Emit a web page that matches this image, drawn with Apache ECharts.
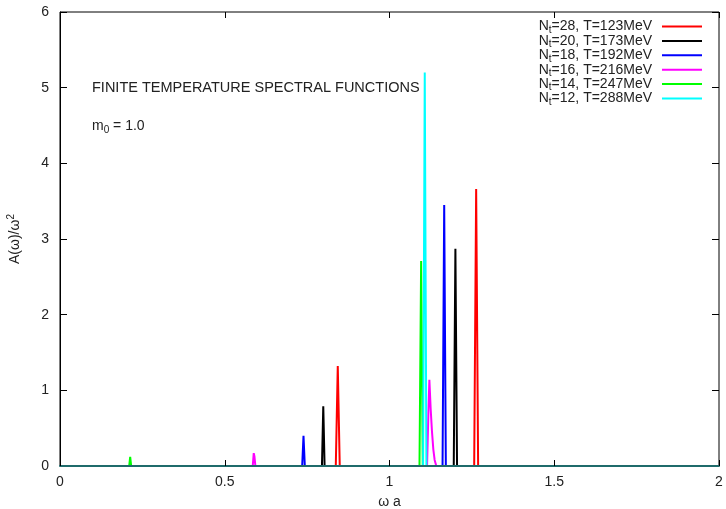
<!DOCTYPE html>
<html>
<head>
<meta charset="utf-8">
<script src="https://cdn.jsdelivr.net/npm/echarts@6/dist/echarts.min.js"></script>
<style>
  html, body { margin: 0; padding: 0; background: #fff; }
  #chart { width: 726px; height: 509px; }
</style>
</head>
<body>
<div id="chart"></div>
<script>
// one entry per lattice size: [omega a, A(omega)/omega^2]
const ntLabels = ["28", "20", "18", "16", "14", "12"];
const tLabels = ["123", "173", "192", "216", "247", "288"];
const colors = ["#ff0000", "#000000", "#0000ff", "#ff00ff", "#00ff00", "#00ffff"];

const nt28 = [[0, 0], [0.837, 0], [0.843, 1.32], [0.849, 0], [1.257, 0], [1.263, 3.66], [1.269, 0], [2, 0]];
const nt20 = [[0, 0], [0.795, 0], [0.799, 0.79], [0.803, 0], [1.195, 0], [1.2, 2.87], [1.205, 0], [2, 0]];
const nt18 = [[0, 0], [0.735, 0], [0.739, 0.40], [0.743, 0], [1.161, 0], [1.166, 3.45], [1.171, 0], [2, 0]];
const nt16 = [[0, 0], [0.585, 0], [0.588, 0.17], [0.590, 0.13], [0.593, 0], [1.114, 0], [1.118, 0.7], [1.121, 1.14],
  [1.125, 0.75], [1.129, 0.45], [1.133, 0.22], [1.137, 0.08], [1.142, 0], [2, 0]];
const nt14 = [[0, 0], [0.210, 0], [0.213, 0.12], [0.216, 0], [1.091, 0], [1.096, 2.71], [1.101, 0], [2, 0]];
const nt12 = [[0, 0], [1.102, 0], [1.107, 5.2], [1.112, 0], [2, 0]];

const seriesData = [nt28, nt20, nt18, nt16, nt14, nt12];

const xTicks = ["0", "0.5", "1", "1.5", "2"];

const font = "Liberation Sans";
const labelColor = "#222";

const chart = echarts.init(document.getElementById("chart"));

const series = seriesData.map(function (d, i) {
  return {
    name: "Nt" + ntLabels[i],
    type: "line",
    data: d,
    showSymbol: false,
    symbol: "none",
    smooth: false,
    animation: false,
    lineStyle: { color: colors[i], width: 2 },
    itemStyle: { color: colors[i] },
    xAxisIndex: 0,
    yAxisIndex: 0
  };
});

const option = {
  backgroundColor: "#ffffff",
  animation: false,
  textStyle: { fontFamily: font },
  grid: {
    left: 60, right: 7, top: 12, bottom: 43,
    outerBoundsMode: "none",
    show: true, borderColor: "#000", borderWidth: 1, backgroundColor: "transparent"
  },
  legend: {
    orient: "vertical",
    right: 19,
    top: 13,
    align: "right",
    icon: "rect",
    itemWidth: 40,
    itemHeight: 2,
    itemGap: -2.6,
    data: series.map(function (s) { return s.name; }),
    formatter: function (name) {
      const i = series.findIndex(function (s) { return s.name === name; });
      return "{a|N}{s|t}{b|=" + ntLabels[i] + ", T=" + tLabels[i] + "MeV}";
    },
    textStyle: {
      fontFamily: font,
      rich: {
        a: { fontFamily: font, fontSize: 14, color: labelColor, lineHeight: 14 },
        s: { fontFamily: font, fontSize: 10, color: labelColor, lineHeight: 14, padding: [7, 0, 0, 0] },
        b: { fontFamily: font, fontSize: 14, color: labelColor, lineHeight: 14, padding: [0, 5, 0, 0] }
      }
    }
  },
  graphic: [
    {
      type: "text", left: 92, top: 80,
      style: { text: "FINITE TEMPERATURE SPECTRAL FUNCTIONS", font: "14.5px " + font, fill: labelColor }
    },
    {
      type: "text", left: 92, top: 118,
      style: {
        text: "{a|m}{s|0}{a| = 1.0}",
        rich: {
          a: { fontFamily: font, fontSize: 14, fill: labelColor, lineHeight: 14 },
          s: { fontFamily: font, fontSize: 10, fill: labelColor, lineHeight: 14, padding: [7, 0, 0, 0] }
        }
      }
    }
  ],
  xAxis: [
    {
      type: "value", min: 0, max: 2, interval: 0.5, z: 10,
      name: "\u03c9 a", nameLocation: "middle", nameGap: 29,
      nameTextStyle: { fontFamily: font, fontSize: 14, color: labelColor },
      axisLine: { show: true, onZero: false, lineStyle: { color: "#1f6b6b", width: 2 } },
      axisTick: { show: true, inside: true, length: 6, lineStyle: { color: "#000" } },
      axisLabel: {
        fontFamily: font, fontSize: 14, color: labelColor, margin: 9,
        formatter: function (v) { return xTicks[Math.round(v / 0.5)]; }
      },
      splitLine: { show: false }
    },
    {
      type: "value", min: 0, max: 2, interval: 0.5, position: "top",
      axisLine: { show: false, onZero: false },
      axisTick: { show: true, inside: true, length: 6, lineStyle: { color: "#000" } },
      axisLabel: { show: false },
      splitLine: { show: false }
    }
  ],
  yAxis: [
    {
      type: "value", min: 0, max: 6, interval: 1,
      name: "{a|A(\u03c9)/\u03c9}{p|2}", nameLocation: "middle", nameGap: 37, nameRotate: 90,
      nameTextStyle: {
        fontFamily: font, fontSize: 14, color: labelColor,
        rich: {
          a: { fontFamily: font, fontSize: 14, color: labelColor, lineHeight: 16 },
          p: { fontFamily: font, fontSize: 10, color: labelColor, lineHeight: 16, padding: [0, 0, 8, 0] }
        }
      },
      axisLine: { show: true, onZero: false, lineStyle: { color: "#000", width: 1 } },
      axisTick: { show: true, inside: true, length: 7, lineStyle: { color: "#000" } },
      axisLabel: { fontFamily: font, fontSize: 14, color: labelColor, margin: 11 },
      splitLine: { show: false }
    },
    {
      type: "value", min: 0, max: 6, interval: 1, position: "right",
      axisLine: { show: false, onZero: false },
      axisTick: { show: true, inside: true, length: 7, lineStyle: { color: "#000" } },
      axisLabel: { show: false },
      splitLine: { show: false }
    }
  ],
  series: series
};

chart.setOption(option);
</script>
</body>
</html>
